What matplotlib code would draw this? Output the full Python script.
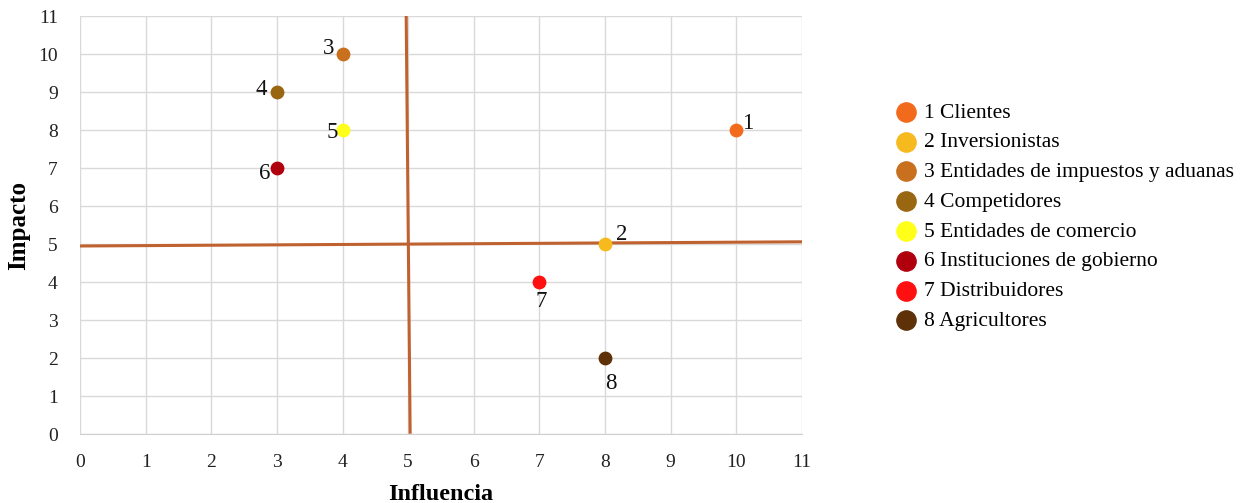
import matplotlib.pyplot as plt

plt.rcParams.update({
    "font.family": ["Liberation Serif", "DejaVu Serif"],
    "font.size": 14,
})

# -------- Data --------
ids = [1, 2, 3, 4, 5, 6, 7, 8]
names = ["Clientes", "Inversionistas", "Entidades de impuestos y aduanas",
         "Competidores", "Entidades de comercio", "Instituciones de gobierno",
         "Distribuidores", "Agricultores"]
influencia = [10, 8, 4, 3, 4, 3, 7, 8]
impacto = [8, 5, 10, 9, 8, 7, 4, 2]
colors = ["#F26B1D", "#F7BA1E", "#C8701E", "#996612", "#FFFF1A",
          "#B0000E", "#FF1010", "#5E3108"]

# label offsets (points) for the point numbers
offsets = [(4, 5), (8, 7), (-6, 4), (-7, 2), (-3, -2), (-5, -4), (1, -14), (4, -18)]
aligns = ["left", "left", "right", "right", "right", "right", "center", "center"]

# quadrant divider lines (slightly hand-drawn in the original)
h_line_x = [0, 11]
h_line_y = [4.95, 5.06]
v_line_x = [4.97, 5.03]
v_line_y = [11, 0.05]

fig = plt.figure(figsize=(12.51, 5.03), dpi=100)
ax = fig.add_axes([0.064, 0.137, 0.577, 0.831])

ax.grid(True, color="#d9d9d9", linewidth=1.0)
ax.set_axisbelow(True)

ax.plot(h_line_x, h_line_y, color="#C0622F", linewidth=2.2, zorder=2)
ax.plot(v_line_x, v_line_y, color="#C0622F", linewidth=2.2, zorder=2)

for i in range(len(ids)):
    ax.scatter(influencia[i], impacto[i], s=80, color=colors[i], zorder=3,
               label=f"{ids[i]} {names[i]}")
    ax.annotate(str(ids[i]), (influencia[i], impacto[i]),
                xytext=offsets[i], textcoords="offset points",
                ha=aligns[i], va="center", fontsize=16.5, color="#111111")

ax.set_xlim(0, 11)
ax.set_ylim(0, 11)
ax.set_xticks(range(0, 12))
ax.set_yticks(range(0, 12))
ax.tick_params(axis="both", length=0, labelsize=14, colors="#222222")
ax.tick_params(axis="x", pad=14)
ax.tick_params(axis="y", pad=16)
for side in ("top", "right", "left"):
    ax.spines[side].set_visible(False)
ax.spines["bottom"].set_color("#d0d0d0")

ax.set_xlabel("Influencia", fontweight="bold", fontsize=17.5, labelpad=10)
ax.set_ylabel("Impacto", fontweight="bold", fontsize=18, labelpad=6)

leg = ax.legend(loc="center left", bbox_to_anchor=(1.118, 0.52), frameon=False,
                fontsize=15.5, handletextpad=0.3, labelspacing=0.45,
                handlelength=1.0, markerscale=1.55, borderaxespad=0)

fig.savefig("out.png", dpi=100)
